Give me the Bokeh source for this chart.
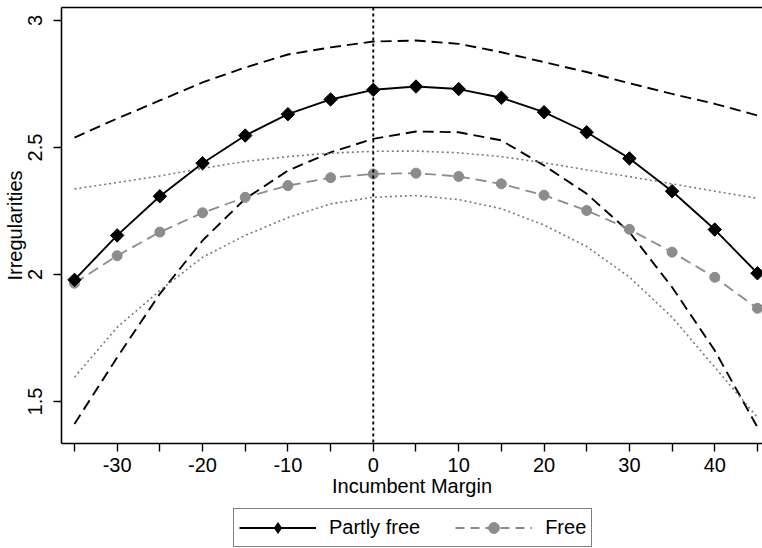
import numpy as np
from bokeh.plotting import figure
from bokeh.layouts import column
from bokeh.models import (Range1d, FixedTicker, LinearAxis, Legend, LegendItem,
                          Span, NumeralTickFormatter, ColumnDataSource)
from bokeh.embed import file_html
from bokeh.resources import INLINE

# ---- data ----
margin = [-35, -30, -25, -20, -15, -10, -5, 0, 5, 10, 15, 20, 25, 30, 35, 40, 45]
partly_free = [1.979, 2.154, 2.308, 2.438, 2.547, 2.631, 2.689, 2.727, 2.740,
               2.730, 2.696, 2.639, 2.560, 2.457, 2.328, 2.177, 2.005]
free = [1.966, 2.074, 2.167, 2.243, 2.304, 2.350, 2.381, 2.396, 2.399,
        2.386, 2.357, 2.312, 2.252, 2.178, 2.088, 1.989, 1.867]
partly_upper = [2.539, 2.614, 2.685, 2.756, 2.815, 2.866, 2.894, 2.917, 2.921,
                2.908, 2.875, 2.836, 2.797, 2.753, 2.711, 2.672, 2.626]
partly_lower = [1.412, 1.674, 1.924, 2.134, 2.298, 2.409, 2.481, 2.534, 2.563,
                2.560, 2.528, 2.429, 2.318, 2.167, 1.950, 1.701, 1.399]
free_upper = [2.337, 2.362, 2.388, 2.418, 2.445, 2.464, 2.478, 2.485, 2.486,
              2.479, 2.464, 2.440, 2.412, 2.385, 2.357, 2.328, 2.300]
free_lower = [1.596, 1.792, 1.937, 2.068, 2.154, 2.224, 2.278, 2.304, 2.311,
              2.295, 2.259, 2.195, 2.110, 1.990, 1.832, 1.635, 1.438]

x_major = [-30, -20, -10, 0, 10, 20, 30, 40]
x_minor = [-35, -25, -15, -5, 5, 15, 25, 35, 45]
y_major = [1.5, 2, 2.5, 3]

FONT = "Liberation Sans"
BLACK = "#000000"
GRAY = "#8c8c8c"
DOT_GRAY = "#7a7a7a"
W = 762

src = ColumnDataSource(dict(x=margin, pf=partly_free, fr=free, pu=partly_upper,
                            pl=partly_lower, fu=free_upper, fl=free_lower))

p = figure(width=W, height=504, output_backend="svg", toolbar_location=None,
           x_range=Range1d(-36.52, 45.59), y_range=Range1d(1.335, 3.051),
           min_border_left=61, min_border_right=0, min_border_top=7, min_border_bottom=61,
           x_axis_label="Incumbent Margin", y_axis_label="Irregularities")
p.background_fill_color = "white"
p.border_fill_color = "white"
p.outline_line_color = None
p.xgrid.grid_line_color = None
p.ygrid.grid_line_color = None

# axes styling
for ax in (p.xaxis[0], p.yaxis[0]):
    ax.axis_line_color = BLACK
    ax.axis_line_width = 1.6
    ax.major_tick_line_color = BLACK
    ax.major_tick_line_width = 1.4
    ax.major_tick_out = 8
    ax.major_tick_in = 0
    ax.major_label_text_font = FONT
    ax.major_label_text_font_size = "20px"
    ax.major_label_text_color = BLACK
    ax.axis_label_text_font = FONT
    ax.axis_label_text_font_size = "20px"
    ax.axis_label_text_font_style = "normal"
    ax.axis_label_text_color = BLACK
    ax.formatter = NumeralTickFormatter(format="0.[0]")

p.xaxis[0].ticker = FixedTicker(ticks=x_major, minor_ticks=x_minor)
p.xaxis[0].minor_tick_line_color = BLACK
p.xaxis[0].minor_tick_line_width = 1.4
p.xaxis[0].minor_tick_out = 8
p.xaxis[0].minor_tick_in = 0
p.xaxis[0].major_label_standoff = 6
p.xaxis[0].axis_label_standoff = 0

p.yaxis[0].ticker = FixedTicker(ticks=y_major)
p.yaxis[0].minor_tick_line_color = None
p.yaxis[0].major_label_orientation = "vertical"
p.yaxis[0].major_label_standoff = 11
p.yaxis[0].axis_label_standoff = 0

# top frame line
top = LinearAxis(axis_line_color=BLACK, axis_line_width=1.6,
                 major_tick_line_color=None, minor_tick_line_color=None,
                 major_label_text_font_size="0px", major_label_standoff=0,
                 major_tick_out=0, major_tick_in=0, minor_tick_out=0, minor_tick_in=0)
p.add_layout(top, "above")

# vertical reference line at 0
p.add_layout(Span(location=0, dimension="height", line_color=BLACK,
                  line_width=1.9, line_dash="3 3"))

# confidence bands
p.line("x", "pu", source=src, line_color=BLACK, line_width=1.9, line_dash="11 6")
p.line("x", "pl", source=src, line_color=BLACK, line_width=1.9, line_dash="11 6")
p.line("x", "fu", source=src, line_color=DOT_GRAY, line_width=1.6, line_dash="2 3")
p.line("x", "fl", source=src, line_color=DOT_GRAY, line_width=1.6, line_dash="2 3")

# main series
p.line("x", "fr", source=src, line_color=GRAY, line_width=1.8, line_dash="11 6")
p.scatter("x", "fr", source=src, marker="circle", size=10,
          fill_color=GRAY, line_color=GRAY)
p.line("x", "pf", source=src, line_color=BLACK, line_width=1.9)
p.scatter("x", "pf", source=src, marker="square", angle=np.pi / 4, size=9.5,
          fill_color=BLACK, line_color=BLACK)

# ---- legend strip below the plot (same data, kept out of view) ----
lg = figure(width=W, height=44, output_backend="svg", toolbar_location=None,
            x_range=Range1d(0, 1), y_range=Range1d(100, 101),
            x_axis_location=None, y_axis_location=None,
            min_border_left=0, min_border_right=0, min_border_top=0, min_border_bottom=0)
lg.outline_line_color = None
lg.xgrid.grid_line_color = None
lg.ygrid.grid_line_color = None
lg.background_fill_color = "white"
lg.border_fill_color = "white"
l_pf = lg.line("x", "pf", source=src, line_color=BLACK, line_width=1.9)
m_pf = lg.scatter("x", "pf", source=src, marker="diamond", size=13,
                  fill_color=BLACK, line_color=BLACK)
l_fr = lg.line("x", "fr", source=src, line_color=GRAY, line_width=1.8, line_dash="9 6")
m_fr = lg.scatter("x", "fr", source=src, marker="circle", size=10,
                  fill_color=GRAY, line_color=GRAY)

legend = Legend(items=[LegendItem(label="Partly free", renderers=[l_pf, m_pf]),
                       LegendItem(label="Free", renderers=[l_fr, m_fr])],
                orientation="horizontal", location=(172, 1),
                label_text_font=FONT, label_text_font_size="20px",
                label_text_color=BLACK,
                glyph_width=77, glyph_height=27, label_standoff=13, spacing=35,
                padding=5, margin=0,
                border_line_color=BLACK, border_line_width=1.3,
                background_fill_color="white", background_fill_alpha=1.0)
lg.add_layout(legend, "center")

layout = column(p, lg, spacing=0)
open("out.html", "w").write(file_html(layout, INLINE))
